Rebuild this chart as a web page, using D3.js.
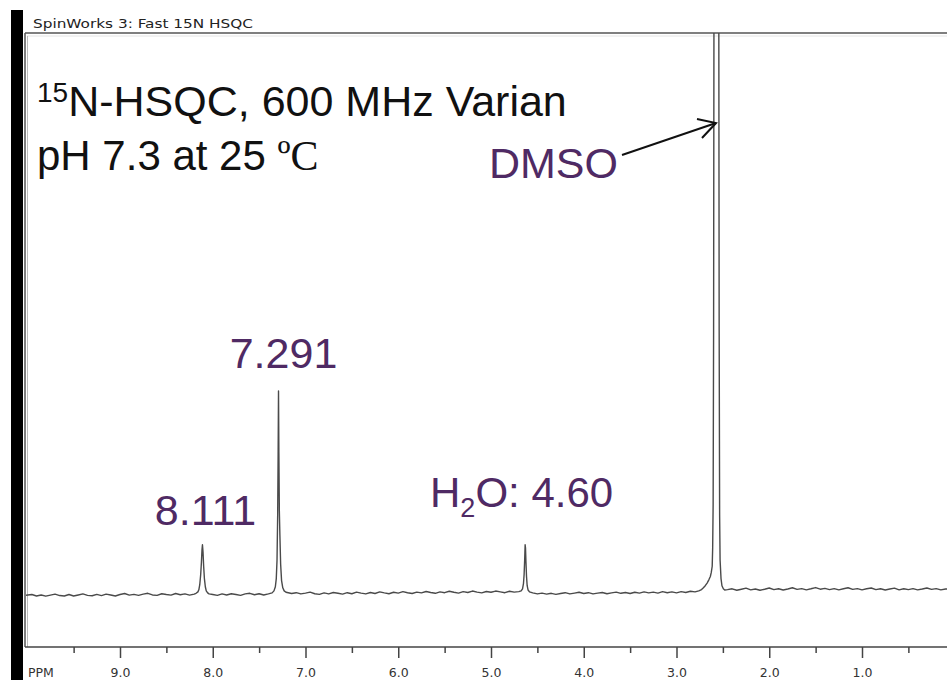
<!DOCTYPE html>
<html>
<head>
<meta charset="utf-8">
<script src="https://cdn.jsdelivr.net/npm/d3@7"></script>
<style>
  body { margin: 0; background: #fff; }
  svg { display: block; }
</style>
</head>
<body>
<svg id="chart" width="947" height="680"></svg>
<script>
// ---- data ----
const spectrumPpm = [10.05,9.95,9.9,9.85,9.8,9.75,9.7,9.65,9.6,9.55,9.5,9.45,9.4,9.35,9.3,9.25,9.2,9.15,9.1,9.05,9.0,8.95,8.9,8.85,8.8,8.75,8.7,8.65,8.6,8.55,8.5,8.45,8.4,8.35,8.3,8.25,8.2,8.18,8.16,8.15,8.14,8.13,8.122,8.116,8.111,8.105,8.098,8.09,8.08,8.07,8.055,8.04,8.0,7.95,7.9,7.85,7.8,7.75,7.7,7.65,7.6,7.55,7.5,7.45,7.4,7.36,7.34,7.325,7.315,7.307,7.300,7.295,7.291,7.287,7.282,7.276,7.268,7.258,7.245,7.23,7.21,7.15,7.1,7.05,7.0,6.95,6.9,6.85,6.8,6.75,6.7,6.65,6.6,6.55,6.5,6.45,6.4,6.35,6.3,6.25,6.2,6.15,6.1,6.05,6.0,5.95,5.9,5.85,5.8,5.75,5.7,5.65,5.6,5.55,5.5,5.45,5.4,5.35,5.3,5.25,5.2,5.15,5.1,5.05,5.0,4.95,4.9,4.85,4.8,4.75,4.7,4.675,4.66,4.65,4.643,4.637,4.632,4.628,4.623,4.617,4.61,4.6,4.585,4.55,4.5,4.45,4.4,4.35,4.3,4.25,4.2,4.15,4.1,4.05,4.0,3.95,3.9,3.85,3.8,3.75,3.7,3.65,3.6,3.55,3.5,3.45,3.4,3.35,3.3,3.25,3.2,3.15,3.1,3.05,3.0,2.95,2.9,2.85,2.8,2.76,2.73,2.71,2.69,2.67,2.65,2.635,2.625,2.615,2.61,2.605,2.6,2.595,2.545,2.54,2.535,2.53,2.52,2.51,2.495,2.48,2.45,2.4,2.35,2.3,2.25,2.2,2.15,2.1,2.05,2.0,1.95,1.9,1.85,1.8,1.75,1.7,1.65,1.6,1.55,1.5,1.45,1.4,1.35,1.3,1.25,1.2,1.15,1.1,1.05,1.0,0.95,0.9,0.85,0.8,0.75,0.7,0.65,0.6,0.55,0.5,0.45,0.4,0.35,0.3,0.25,0.2,0.15,0.1,0.05,0.0];
const spectrumIntensity = [0.6,1.2,0.5,1.0,0.4,0.9,1.4,0.7,0.5,1.2,0.5,1.0,1.5,0.8,0.6,1.3,0.7,1.4,1.0,0.5,1.2,1.7,0.9,1.3,0.8,1.4,1.8,1.0,0.8,1.6,1.2,0.9,1.7,1.1,1.5,0.9,1.4,1.8,2.5,3.5,6,11,17,23,25.5,22,15,9,5,3,2,1.5,1.2,0.8,1.5,1.0,1.6,1.2,0.8,1.5,1.8,1.1,1.6,1.0,1.5,2.0,3.0,5,9,18,40,70,100.5,70,42,30,16,8,4.5,3,2.3,1.7,2.1,1.5,1.9,2.4,1.6,1.3,2.0,1.5,2.2,1.8,1.4,2.1,1.6,2.4,1.9,1.5,2.2,1.7,2.5,2.0,1.6,2.3,1.9,2.6,2.1,1.7,2.4,2.0,2.7,2.2,1.8,2.5,2.1,2.8,2.3,1.9,2.6,2.2,2.9,2.4,2.0,2.7,2.3,2.9,2.5,2.1,2.8,2.4,2.6,3.0,4.0,6.5,11,18,25.5,24,17,10,5.5,3.4,2.5,2.0,1.5,1.9,1.4,1.8,1.3,1.7,2.1,1.5,1.9,2.3,1.7,2.1,1.5,1.9,2.2,1.6,2.0,2.4,1.8,2.2,1.7,2.3,1.9,2.5,2.0,2.4,1.9,2.6,2.1,2.5,2.0,2.6,2.2,2.8,2.5,3.0,3.6,4.5,5.5,6.8,8.5,10,12,15,24,45,130,330,330,130,40,18,9,5.5,4.0,3.4,3.6,4.0,3.3,3.8,4.3,3.5,3.9,3.3,3.8,4.4,3.6,4.0,3.4,3.9,4.5,3.7,4.1,3.5,4.0,4.6,3.8,4.2,3.6,4.1,3.5,4.0,4.5,3.7,4.1,3.5,4.0,4.4,3.6,4.0,3.4,3.9,4.3,3.5,4.0,3.6,4.1,3.5,3.9,4.4,3.7,4.1,3.5,3.9,4.0,3.7];
const tickValuesMajor = [9, 8, 7, 6, 5, 4, 3, 2, 1];
const tickLabels = ["9.0", "8.0", "7.0", "6.0", "5.0", "4.0", "3.0", "2.0", "1.0"];
const tickValuesMinor = [9.5, 8.5, 7.5, 6.5, 5.5, 4.5, 3.5, 2.5, 1.5, 0.5];
const peakLabels = ["8.111", "7.291"];
const peakLabelPpm = [8.111, 7.291];
const waterLabel = { main: "H", sub: "2", rest: "O: 4.60" };
const solventLabel = "DMSO";
const titleText = "SpinWorks 3: Fast 15N HSQC";
const headerLine1 = { sup: "15", rest: "N-HSQC, 600 MHz Varian" };
const headerLine2 = { main: "pH 7.3 at 25 ", unit: "ºC" };

// ---- layout ----
const svg = d3.select("#chart");
const W = 947, H = 680;
const box = { left: 25, top: 33, right: 947, bottom: 647 };
const purple = "#4f2a64";

svg.append("rect").attr("width", W).attr("height", H).attr("fill", "#fff");

// left black bar
svg.append("rect").attr("x", 11).attr("y", 10).attr("width", 12).attr("height", H - 10).attr("fill", "#000");

const x = d3.scaleLinear().domain([9, 1]).range([120, 862]);
const y = d3.scaleLinear().domain([0, 100]).range([597, 392]);

// frame
svg.append("line").attr("x1", box.left).attr("x2", box.right).attr("y1", box.top).attr("y2", box.top)
  .attr("stroke", "#555").attr("stroke-width", 1.5);
svg.append("line").attr("x1", box.left + 2).attr("x2", box.right).attr("y1", box.top + 3).attr("y2", box.top + 3)
  .attr("stroke", "#e4e4e4").attr("stroke-width", 1);
svg.append("line").attr("x1", box.left).attr("x2", box.left).attr("y1", box.top).attr("y2", box.bottom)
  .attr("stroke", "#555").attr("stroke-width", 1.5);
svg.append("line").attr("x1", box.left + 2.5).attr("x2", box.left + 2.5).attr("y1", box.top + 3).attr("y2", box.bottom)
  .attr("stroke", "#bbb").attr("stroke-width", 1);

// title
svg.append("text").attr("x", 33).attr("y", 28)
  .attr("font-family", "'DejaVu Sans', Verdana, sans-serif").attr("font-size", 13)
  .attr("fill", "#222").attr("textLength", 220).attr("lengthAdjust", "spacingAndGlyphs")
  .text(titleText);

// spectrum
svg.append("clipPath").attr("id", "clip").append("rect")
  .attr("x", box.left + 1).attr("y", box.top).attr("width", box.right - box.left).attr("height", box.bottom - box.top);

const pts = spectrumPpm.map((p, i) => [p, spectrumIntensity[i]]);
const line = d3.line().x(d => x(d[0])).y(d => y(d[1]));
svg.append("path").attr("clip-path", "url(#clip)")
  .attr("d", line(pts)).attr("fill", "none").attr("stroke", "#4a4a4a").attr("stroke-width", 1.4)
  .attr("stroke-linejoin", "round");

// axis
const axisG = svg.append("g").attr("transform", `translate(0,${box.bottom})`);
axisG.append("line").attr("x1", box.left).attr("x2", box.right).attr("y1", 0).attr("y2", 0)
  .attr("stroke", "#444").attr("stroke-width", 1.5);
const majorAxis = d3.axisBottom(x).tickValues(tickValuesMajor).tickSize(11).tickPadding(10)
  .tickFormat((d, i) => tickLabels[i]);
const gMaj = axisG.append("g").call(majorAxis);
gMaj.select(".domain").remove();
gMaj.selectAll(".tick line").attr("stroke", "#444").attr("stroke-width", 1.5);
gMaj.selectAll(".tick text").attr("font-family", "'DejaVu Sans', Verdana, sans-serif").attr("font-size", 12.5).attr("fill", "#333");
const minorAxis = d3.axisBottom(x).tickValues(tickValuesMinor).tickSize(6).tickFormat("");
const gMin = axisG.append("g").call(minorAxis);
gMin.select(".domain").remove();
gMin.selectAll(".tick line").attr("stroke", "#444").attr("stroke-width", 1.5);

svg.append("text").attr("x", 28).attr("y", 677)
  .attr("font-family", "'DejaVu Sans', Verdana, sans-serif").attr("font-size", 12.5).attr("fill", "#333")
  .text("PPM");

// header annotation
const sans = "'Liberation Sans', Arial, sans-serif";
const h1 = svg.append("text").attr("x", 37).attr("y", 116)
  .attr("font-family", sans).attr("font-size", 43).attr("fill", "#111");
h1.append("tspan").attr("font-size", 28).attr("dy", -14).text(headerLine1.sup);
h1.append("tspan").attr("dy", 14).text(headerLine1.rest);

const h2 = svg.append("text").attr("x", 37).attr("y", 170)
  .attr("font-family", sans).attr("font-size", 42).attr("fill", "#111");
h2.append("tspan").text(headerLine2.main);
h2.append("tspan").attr("font-family", "'Liberation Serif', 'Times New Roman', serif").text(headerLine2.unit);

// peak labels
const labelOffsets = [{ dx: 3, y: 525 }, { dx: 5, y: 368 }];
peakLabels.forEach((t, i) => {
  svg.append("text").attr("x", x(peakLabelPpm[i]) + labelOffsets[i].dx).attr("y", labelOffsets[i].y)
    .attr("text-anchor", "middle").attr("font-family", sans).attr("font-size", 43).attr("fill", purple)
    .text(t);
});

const wl = svg.append("text").attr("x", 430).attr("y", 507)
  .attr("font-family", sans).attr("font-size", 42).attr("fill", purple);
wl.append("tspan").text(waterLabel.main);
wl.append("tspan").attr("font-size", 27).attr("dy", 10).text(waterLabel.sub);
wl.append("tspan").attr("dy", -10).text(waterLabel.rest);

svg.append("text").attr("x", 489).attr("y", 178)
  .attr("font-family", sans).attr("font-size", 43).attr("fill", purple).text(solventLabel);

// arrow to DMSO peak
svg.append("line").attr("x1", 622).attr("y1", 155).attr("x2", 716).attr("y2", 123)
  .attr("stroke", "#111").attr("stroke-width", 2);
svg.append("polyline").attr("points", "697,119 716,123 702,138")
  .attr("fill", "none").attr("stroke", "#111").attr("stroke-width", 2).attr("stroke-linejoin", "miter");
</script>
</body>
</html>
